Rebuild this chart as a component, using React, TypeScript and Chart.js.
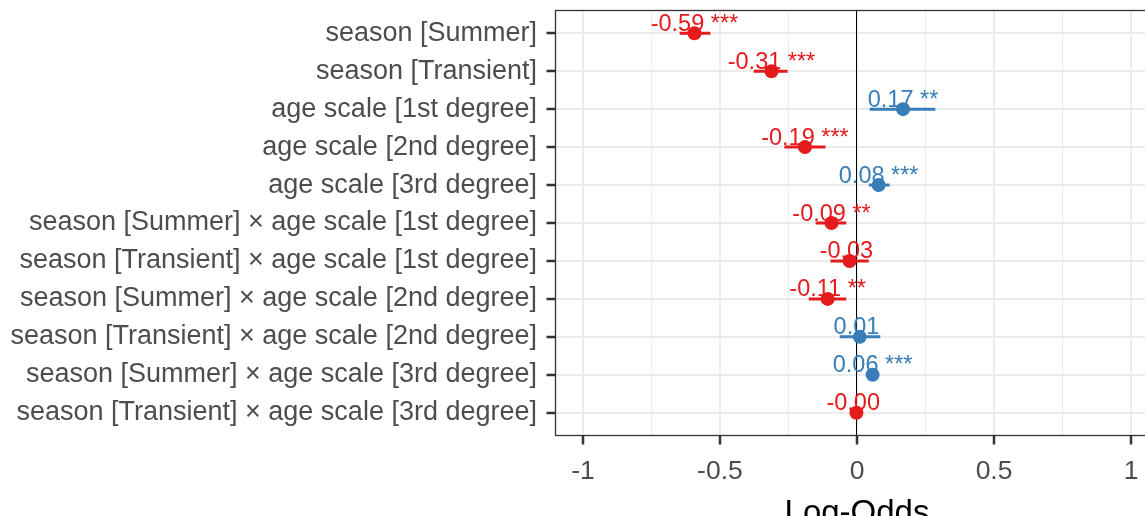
import React, { useEffect, useRef } from "react";
import { Chart, registerables } from "chart.js";

Chart.register(...registerables);

const categories = [
  "season [Summer]",
  "season [Transient]",
  "age scale [1st degree]",
  "age scale [2nd degree]",
  "age scale [3rd degree]",
  "season [Summer] × age scale [1st degree]",
  "season [Transient] × age scale [1st degree]",
  "season [Summer] × age scale [2nd degree]",
  "season [Transient] × age scale [2nd degree]",
  "season [Summer] × age scale [3rd degree]",
  "season [Transient] × age scale [3rd degree]",
];
const estimates = [-0.593, -0.312, 0.168, -0.19, 0.079, -0.093, -0.027, -0.107, 0.01, 0.057, -0.002];
const ciLow = [-0.647, -0.377, 0.046, -0.265, 0.043, -0.151, -0.097, -0.176, -0.063, 0.044, -0.009];
const ciHigh = [-0.535, -0.253, 0.286, -0.115, 0.119, -0.039, 0.043, -0.039, 0.085, 0.068, 0.006];
const stars = ["***", "***", "**", "***", "***", "**", "", "**", "", "***", ""];
const xTicks = [-1, -0.75, -0.5, -0.25, 0, 0.25, 0.5, 0.75, 1];
const xTickLabels = ["-1", "", "-0.5", "", "0", "", "0.5", "", "1"];
const axisTitle = "Log-Odds";

const RED = "#E41A1C";
const BLUE = "#377EB8";
const W = 1180;
const H = 540;
const FONT = '"Liberation Sans", Arial, sans-serif';

const colorOf = (v: number) => (v < 0 ? RED : BLUE);
const isMajor = (v: number) => Math.abs(v * 2 - Math.round(v * 2)) < 1e-9;

const forestPlugin = {
  id: "forest",
  beforeDatasetsDraw(chart: any) {
    const { ctx, chartArea, scales } = chart;
    const x = scales.x;
    const y = scales.y;
    ctx.save();
    const x0 = Math.round(x.getPixelForValue(0)) - 0.5;
    ctx.strokeStyle = "#000000";
    ctx.lineWidth = 1;
    ctx.beginPath();
    ctx.moveTo(x0, chartArea.top);
    ctx.lineTo(x0, chartArea.bottom);
    ctx.stroke();
    ctx.lineWidth = 3;
    ctx.lineCap = "butt";
    estimates.forEach((v, i) => {
      const py = y.getPixelForValue(i + 1);
      ctx.strokeStyle = colorOf(v);
      ctx.beginPath();
      ctx.moveTo(x.getPixelForValue(ciLow[i]), py);
      ctx.lineTo(x.getPixelForValue(ciHigh[i]), py);
      ctx.stroke();
    });
    ctx.restore();
  },
  afterDatasetsDraw(chart: any) {
    const { ctx, scales } = chart;
    const x = scales.x;
    const y = scales.y;
    ctx.save();
    ctx.font = `23.5px ${FONT}`;
    ctx.textAlign = "center";
    ctx.textBaseline = "alphabetic";
    estimates.forEach((v, i) => {
      const label = `${v.toFixed(2)} ${stars[i]}`;
      ctx.fillStyle = colorOf(v);
      ctx.fillText(label, x.getPixelForValue(v), y.getPixelForValue(i + 1) - 2.5);
    });
    ctx.restore();
  },
  afterDraw(chart: any) {
    const { ctx, chartArea } = chart;
    ctx.save();
    ctx.strokeStyle = "#333333";
    ctx.lineWidth = 1.3;
    ctx.strokeRect(chartArea.left, chartArea.top, chartArea.right - chartArea.left, chartArea.bottom - chartArea.top);
    ctx.restore();
  },
};

export default function App() {
  const ref = useRef<HTMLCanvasElement>(null);
  useEffect(() => {
    if (!ref.current) return;
    const chart = new Chart(ref.current, {
      type: "scatter",
      data: {
        datasets: [
          {
            data: estimates.map((v, i) => ({ x: v, y: i + 1 })),
            pointRadius: 7,
            pointHoverRadius: 7,
            pointBorderWidth: 0,
            pointBackgroundColor: estimates.map(colorOf),
            pointBorderColor: estimates.map(colorOf),
          },
        ],
      },
      options: {
        animation: false,
        responsive: false,
        events: [],
        layout: { padding: { top: 10.5, right: 21.5, left: 0, bottom: 0 } },
        plugins: { legend: { display: false }, tooltip: { enabled: false } },
        scales: {
          x: {
            type: "linear",
            min: -1.1,
            max: 1.1,
            afterBuildTicks: (s: any) => {
              s.ticks = xTicks.map((v) => ({ value: v }));
            },
            afterFit: (s: any) => {
              s.height = H - 435.5;
              s.paddingLeft = 0;
              s.paddingRight = 0;
              s.paddingTop = 0;
              s.paddingBottom = 0;
            },
            ticks: {
              autoSkip: false,
              maxRotation: 0,
              padding: 11,
              color: "#4D4D4D",
              font: { family: FONT, size: 26.5 },
              callback: (v: any) => xTickLabels[xTicks.indexOf(Number(v))] ?? "",
            },
            grid: {
              color: "#EBEBEB",
              lineWidth: (c: any) => (c.tick && isMajor(c.tick.value) ? 2 : 1),
              tickLength: 9,
              tickWidth: 2.5,
              tickColor: (c: any) => (c.tick && isMajor(c.tick.value) ? "#333333" : "rgba(0,0,0,0)"),
            },
            border: { display: false },
            title: {
              display: true,
              text: axisTitle,
              color: "#000000",
              font: { family: FONT, size: 33 },
              padding: { top: 0, bottom: 6.5 },
            },
          },
          y: {
            type: "linear",
            reverse: true,
            min: 0.4,
            max: 11.6,
            afterBuildTicks: (s: any) => {
              s.ticks = categories.map((_, i) => ({ value: i + 1 }));
            },
            afterFit: (s: any) => {
              s.width = 555.5;
              s.paddingLeft = 0;
              s.paddingRight = 0;
              s.paddingTop = 0;
              s.paddingBottom = 0;
            },
            ticks: {
              autoSkip: false,
              padding: 9.5,
              color: "#4D4D4D",
              font: { family: FONT, size: 27 },
              callback: (v: any) => categories[Number(v) - 1] ?? "",
            },
            grid: {
              color: "#EBEBEB",
              lineWidth: 2,
              tickLength: 9,
              tickWidth: 2.5,
              tickColor: "#333333",
            },
            border: { display: false },
          },
        },
      },
      plugins: [forestPlugin],
    });
    return () => chart.destroy();
  }, []);

  return (
    <div
      style={{
        position: "fixed",
        left: 0,
        top: 0,
        width: 1145,
        height: 516,
        overflow: "hidden",
        background: "#ffffff",
      }}
    >
      <canvas ref={ref} width={W} height={H} style={{ display: "block" }} />
    </div>
  );
}
